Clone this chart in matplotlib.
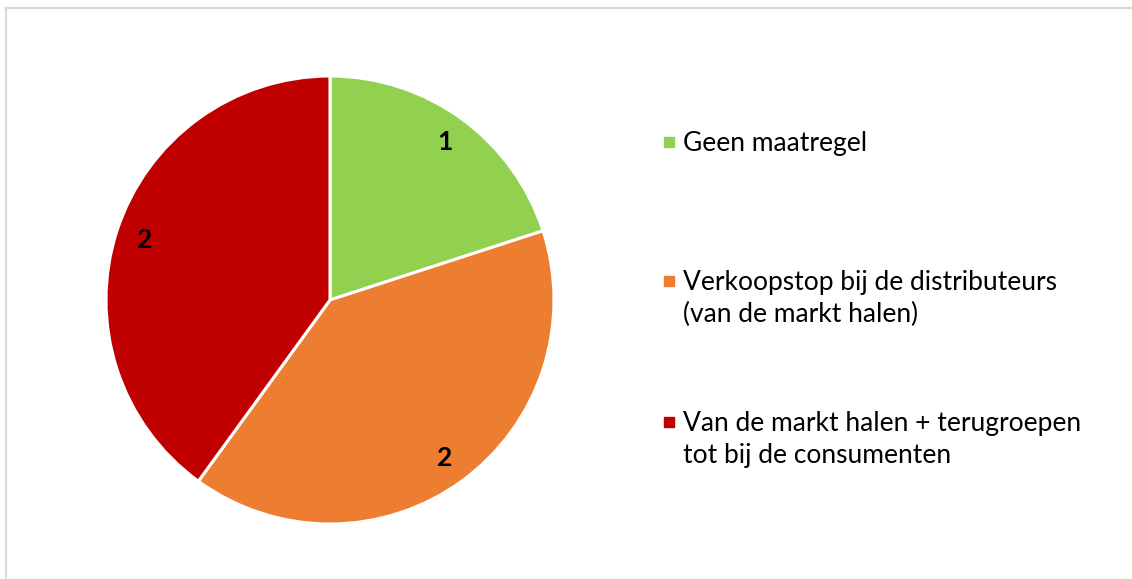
import matplotlib.pyplot as plt
from matplotlib.patches import Rectangle
from matplotlib.lines import Line2D

# Data
categories = ['Geen maatregel',
              'Verkoopstop bij de distributeurs\n(van de markt halen)',
              'Van de markt halen + terugroepen\ntot bij de consumenten']
values = [1, 2, 2]
colors = ['#92D050', '#ED7D31', '#C00000']

plt.rcParams['font.family'] = ['Lato', 'DejaVu Sans']

W, H = 1132, 579
fig = plt.figure(figsize=(W / 100, H / 100), dpi=100)

# Light grey chart border (only top/left visible in the crop)
bx, by = 6 / W, 1 - 8 / H
fig.add_artist(Line2D([bx, 1.0], [by, by], transform=fig.transFigure, color='#D9D9D9', lw=1.6))
fig.add_artist(Line2D([bx, bx], [0.0, by], transform=fig.transFigure, color='#D9D9D9', lw=1.6))

# Pie centered at (330, 300) px with radius 224 px
cx, cy, r = 330, 300, 224
ax = fig.add_axes([(cx - r) / W, (H - cy - r) / H, 2 * r / W, 2 * r / H])
wedges, texts = ax.pie(values, colors=colors, startangle=90, counterclock=False,
                       labels=[str(v) for v in values], labeldistance=0.87,
                       wedgeprops=dict(edgecolor='white', linewidth=2.2))
for t in texts:
    t.set_fontsize(19)
    t.set_fontweight('bold')
    t.set_ha('center')
    t.set_va('center')
ax.set_xlim(-1, 1)
ax.set_ylim(-1, 1)

# Legend drawn manually so the marker lines up with the first text line
first_baselines = [151, 290, 431]
for lab, col, yb in zip(categories, colors, first_baselines):
    fig.patches.append(Rectangle((664 / W, (H - yb + 4) / H), 10 / W, 10 / H,
                                 transform=fig.transFigure, color=col))
    for k, line in enumerate(lab.split('\n')):
        fig.text(683 / W, (H - yb - 32 * k) / H, line, fontsize=19, va='baseline',
                 ha='left', color='black')

fig.savefig('out.png', dpi=100, facecolor='white')
